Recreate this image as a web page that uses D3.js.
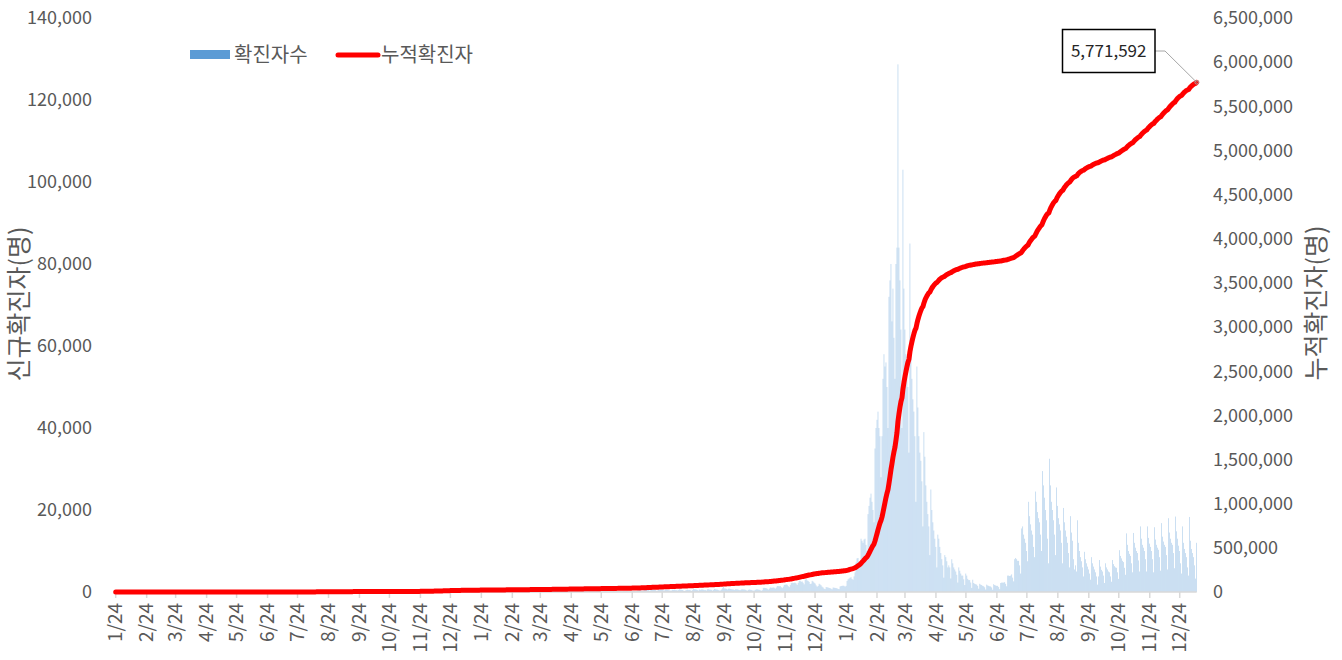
<!DOCTYPE html>
<html>
<head>
<meta charset="utf-8">
<script src="https://cdn.jsdelivr.net/npm/d3@7"></script>
<style>
  body { margin: 0; background: #fff; }
  svg text { font-family: "Noto Sans CJK KR", "Noto Sans", sans-serif; fill: #595959; }
</style>
</head>
<body>
<svg id="chart" width="1342" height="660"></svg>
<script>
// Daily new cases, first day = 2020-01-24
const startDate = new Date(2020, 0, 24);

const cases2020 = [
  1,0,0,0,0,0,1,2, // Jan 24-31
  0,2,0,0,1,1,0,0,0,0, 0,0,0,0,0,1,0,0,2,6, 4,6,8,2,5,4,6,4,5, // Feb
  3,8,8,6,10,12,9,6,14,46, 20,12,10,11,8,6,7,7,12,14, 14,20,14,12,20,16,16,12,15,13, 14, // Mar
  12,10,12,7,10,8,6,5,7,5, 6,4,3,3,2,3,2,1,2,1, 1,0,1,1,1,1,1,0,0,1, // Apr
  1,0,0,1,1,2,4,20,30,15, 20,10,8,6,7,3,3,4,3,6, 6,9,12,8,5,9,14,21,15,12, 11, // May
  9,18,8,14,11,13,9,15,10,18, 9,15,11,9,8,12,17,16,13,10, 9,8,11,10,7,15,10,7,10,11, // Jun
  7,6,6,5,9,5,4,6,9,8, 7,10,6,4,5,6,8,5,4,5, 3,5,8,7,3,5,4,6,3,4, 3, // Jul
  2,4,3,6,3,4,7,8,6,4, 5,14,17,30,59,90,88,122,146,138, 110,129,100,108,112,154,146,125,123,92, 76, // Aug
  72,78,60,57,54,37,48,52,37,56, 51,43,28,45,37,38,49,53,43,41, 31,40,43,40,31,29,29,30,16,28, // Sep
  14,17,16,9,13,19,21,20,7,15, 11,11,17,32,21,16,12,19,14,32, 23,19,24,18,17,37,25,32,30,33, 25, // Oct
  32,39,30,38,44,54,43,48,54,31, 44,55,46,43,63,80,100,110,109,156, 129,124,158,172,181,204,184,161,117,147, // Nov
  193,262,295,235,254,244,213,251,262,295, 362,399,241,219,378,423,398,357,473,328, 313,328,394,552,217,243,212,244,236,320, 337 // Dec
];

const cases2021 = [
  310,194,209,178,221,212,201,203,206,132, 156,142,118,149,112,137,110,103,129,111, 98,141,135,107,113,108,134,101,114,124, 115, // Jan
  106,88,93,106,118,97,98,107,91,96, 128,111,68,74,75,158,218,140,133,123, 120,93,114,120,113,139,125,80, // Feb
  86,121,137,119,112,105,112,91,119,156, 126,125,131,117,100,116,128,135,134,104, 109,94,125,123,122,106,107,96,113,132, 118, // Mar
  156,149,193,156,145,140,152,200,182,214, 178,138,185,205,178,174,187,202,121,169, 180,210,172,198,162,140,150,208,214,207, // Apr
  180,149,138,195,153,140,223,223,179,132, 150,234,183,153,150,144,126,143,184,185, 196,163,163,129,128,168,195,214,185,148, 119, // May
  159,203,187,176,222,165,136,204,209,218, 200,185,158,173,230,211,212,238,213,167, 153,197,208,257,237,242,187,226,362,412, // Jun
  457,436,369,286,374,583,637,509,533,500, 331,417,638,636,484,487,463,312,361,580, 570,584,548,488,411,398,573,563,517,453, 406, // Jul
  360,376,528,487,551,461,455,391,475,661, 578,532,485,357,287,385,467,545,472,476, 427,315,466,677,651,627,568,472,374,583, 524, // Aug
  611,620,542,470,467,378,659,671,594,566, 519,365,506,728,659,610,573,465,385,390, 597,907,1221,879,844,771,614,800,820,744, // Sep
  684,648,608,487,662,659,646,564,470,460, 614,666,618,616,549,430,327,528,627,550, 507,409,349,380,529,657,655,588,546,437, 310, // Oct
  447,1004,1015,975,925,809,572,812,1116,1052, 1058,1127,1041,825,1095,1461,1435,1397,1471,1193, 940,1302,1744,1761,1853,1760,1439,1187,1680,2185, // Nov
  2267,2201,2279,2273,2094,1747,2254,2741,2740,2501, 2581,2268,1873,2963,3166,2838,2718,2467,1960,2036, 2722,2542,2271,2063,1617,1285,1488,2009,1834,1629, 1303 // Dec
];

const cases2022 = [
  1100, 800, // Jan 1-2
  700, 1200, 1150, 1100, 1000, 950, 800, // week of Jan 3
  650, 1100, 1050, 1000, 950, 900, 750,
  700, 1350, 1450, 1500, 1550, 1500, 1300,
  1500, 2700, 3100, 3300, 3500, 3600, 3200,
  3000, 3800, 4800, 7200, 8200, 8300, 7500, // Jan 31
  7000, 13000, 12500, 12000, 12800, 13000, 11500,
  10000, 19000, 21000, 23000, 24000, 22000, 20000,
  17000, 35000, 40000, 42000, 44000, 40000, 38000,
  28000, 38000, 52000, 58000, 55000, 56000, 50000, // Feb 28
  40000, 72000, 76000, 80000, 66000, 74000, 62000,
  52000, 80000, 84000, 128700, 84000, 76000, 64000,
  40000, 103000, 74000, 64000, 58000, 56000, 50000,
  34000, 85000, 62000, 52000, 47000, 44000, 38000, // Mar 28
  22000, 55000, 45000, 38000, 34000, 32000, 27000,
  16000, 39000, 33000, 26000, 22000, 19000, 16000,
  9000, 25000, 20000, 17000, 15000, 13000, 11000,
  6000, 14000, 13000, 11000, 9500, 8000, 6500, // Apr 25
  3500, 9000, 8500, 7500, 6000, 6500, 6000,
  3300, 8000, 7000, 6000, 5500, 5000, 4200,
  2300, 6000, 5200, 4500, 4000, 4000, 3100,
  1700, 4500, 4000, 3200, 2900, 2900, 2300,
  1000, 3000, 2200, 2000, 1900, 1800, 1500, // May 30
  800, 2000, 1800, 1700, 1500, 1400, 1150,
  600, 1800, 1600, 1500, 1400, 1350, 1100,
  550, 1900, 1700, 1600, 1500, 1500, 1200,
  700, 2200, 2300, 2300, 2300, 2400, 2000, // Jun 27
  1400, 4000, 4000, 3900, 4000, 4300, 3500,
  2600, 8000, 8300, 8000, 7600, 7600, 6500,
  4500, 15500, 16000, 14000, 13000, 12000, 10000,
  7500, 22000, 18500, 16500, 15000, 14000, 11000, // Jul 25
  8500, 24500, 22000, 19500, 18000, 17000, 14000,
  10000, 29500, 26000, 23000, 20000, 17500, 13000,
  7000, 32500, 26000, 22000, 20000, 17500, 14000,
  9000, 25500, 21000, 18000, 16500, 15000, 12000,
  7000, 20500, 17000, 15000, 13500, 12000, 9500, // Aug 29
  6000, 18500, 14500, 12500, 8000, 5500, 6500,
  5000, 17500, 12000, 10000, 8500, 7500, 6000,
  3800, 9800, 8000, 7000, 6200, 5500, 4500,
  3000, 8500, 7000, 6200, 5500, 4800, 3800, // Sep 26
  1800, 3800, 7800, 6200, 5400, 5000, 4000,
  2200, 7000, 6000, 5500, 5000, 4800, 3800,
  2500, 7800, 6800, 6300, 6000, 5900, 4800,
  3200, 10200, 8800, 8200, 7600, 7300, 5900,
  4200, 14300, 11500, 10000, 9300, 8800, 7000, // Oct 31
  4800, 14400, 12000, 10800, 10000, 9500, 7700,
  5000, 16000, 13000, 11500, 10800, 10000, 8000,
  5000, 16000, 13200, 11800, 11000, 10000, 8000,
  4800, 15800, 12800, 11500, 10800, 10300, 8500, // Nov 28
  5200, 16800, 13500, 12300, 11500, 11000, 9000,
  5500, 18000, 14500, 13000, 12000, 11500, 9500,
  5800, 18400, 14800, 13000, 11300, 10000, 7000,
  4500, 16000, 12000, 10500, 9500, 8500 // Dec 26-31
];

const cases2023 = [
  6000, // Jan 1
  4000, 18300, 12500, 10500, 9500, 8500, 6500,
  3274, 12000
];

const seriesNames = ["확진자수", "누적확진자"];
const axisTitles = ["신규확진자(명)", "누적확진자(명)"];

const daily = [...cases2020, ...cases2021, ...cases2022, ...cases2023];
const dates = daily.map((_, i) => d3.timeDay.offset(startDate, i));
const cumulative = Array.from(d3.cumsum(daily));
const points = daily.map((v, i) => ({ date: dates[i], value: v, total: cumulative[i] }));

const svg = d3.select("#chart");
const plot = { left: 115.7, right: 1196.7, top: 18, bottom: 592 };

const x = d3.scaleTime().domain([startDate, dates[dates.length - 1]]).range([plot.left, plot.right]);
const yLeft = d3.scaleLinear().domain([0, 140000]).range([plot.bottom, plot.top]);
const yRight = d3.scaleLinear().domain([0, 6500000]).range([plot.bottom, plot.top]);
const fmt = d3.format(",");

// left axis labels
svg.append("g").selectAll("text")
  .data(d3.range(0, 140001, 20000))
  .join("text")
  .attr("x", 92).attr("y", (d) => yLeft(d)).attr("dy", "0.35em")
  .attr("text-anchor", "end").attr("font-size", 18)
  .text(fmt);

// right axis labels
svg.append("g").selectAll("text")
  .data(d3.range(0, 6500001, 500000))
  .join("text")
  .attr("x", 1213).attr("y", (d) => yRight(d)).attr("dy", "0.35em")
  .attr("font-size", 18)
  .text(fmt);

// bars (hairline-thin, so they read as a pale blue wash like the original)
svg.append("g").selectAll("rect")
  .data(points)
  .join("rect")
  .attr("x", (d) => x(d.date) - 0.16)
  .attr("width", 0.32)
  .attr("y", (d) => yLeft(d.value))
  .attr("height", (d) => plot.bottom - yLeft(d.value))
  .attr("fill", "#5b9bd5");

// x axis line + monthly ticks on the 24th
const tickDates = d3.timeMonth.range(new Date(2020, 0, 1), new Date(2023, 0, 1)).map((m) => new Date(m.getFullYear(), m.getMonth(), 24));
const xAxis = svg.append("g");
xAxis.append("line")
  .attr("x1", plot.left).attr("x2", plot.right)
  .attr("y1", plot.bottom).attr("y2", plot.bottom)
  .attr("stroke", "#d9d9d9").attr("stroke-width", 1.5);
xAxis.selectAll("line.tick")
  .data(tickDates)
  .join("line").attr("class", "tick")
  .attr("x1", (d) => x(d)).attr("x2", (d) => x(d))
  .attr("y1", plot.bottom).attr("y2", plot.bottom + 6)
  .attr("stroke", "#d9d9d9").attr("stroke-width", 1.5);
xAxis.selectAll("text")
  .data(tickDates)
  .join("text")
  .attr("transform", (d) => `translate(${x(d)},603) rotate(-90)`)
  .attr("dy", "0.35em")
  .attr("text-anchor", "end").attr("font-size", 19)
  .text(d3.timeFormat("%-m/%-d"));

// cumulative line
svg.append("path")
  .datum(points)
  .attr("fill", "none")
  .attr("stroke", "#ff0000")
  .attr("stroke-width", 5)
  .attr("stroke-linejoin", "round")
  .attr("stroke-linecap", "round")
  .attr("d", d3.line().x((d) => x(d.date)).y((d) => yRight(d.total)));

// callout for last value
const last = points[points.length - 1];
svg.append("polyline")
  .attr("points", `1155,51 1165,51 ${x(last.date)},${yRight(last.total)}`)
  .attr("fill", "none").attr("stroke", "#a6a6a6").attr("stroke-width", 1);
svg.append("circle")
  .attr("cx", x(last.date)).attr("cy", yRight(last.total)).attr("r", 1.8)
  .attr("fill", "none").attr("stroke", "#a6a6a6");
svg.append("rect")
  .attr("x", 1062.5).attr("y", 29.5).attr("width", 92.5).attr("height", 43)
  .attr("fill", "#fff").attr("stroke", "#000").attr("stroke-width", 1.5);
svg.append("text")
  .attr("x", 1108.7).attr("y", 51).attr("dy", "0.35em")
  .attr("text-anchor", "middle").attr("font-size", 17).style("fill", "#262626")
  .text(fmt(last.total));

// legend
const legend = svg.append("g");
legend.append("rect").attr("x", 190).attr("y", 50).attr("width", 40).attr("height", 9).attr("fill", "#5b9bd5");
legend.append("text").attr("x", 234).attr("y", 55).attr("dy", "0.35em").attr("font-size", 20).text(seriesNames[0]);
legend.append("line").attr("x1", 338).attr("x2", 378).attr("y1", 55).attr("y2", 55)
  .attr("stroke", "#ff0000").attr("stroke-width", 5).attr("stroke-linecap", "round");
legend.append("text").attr("x", 381).attr("y", 55).attr("dy", "0.35em").attr("font-size", 20).text(seriesNames[1]);

// axis titles
svg.append("text")
  .attr("transform", "translate(19,304) rotate(-90)")
  .attr("dy", "0.35em").attr("text-anchor", "middle").attr("font-size", 25)
  .text(axisTitles[0]);
svg.append("text")
  .attr("transform", "translate(1316,303) rotate(-90)")
  .attr("dy", "0.35em").attr("text-anchor", "middle").attr("font-size", 25)
  .text(axisTitles[1]);
</script>
</body>
</html>
